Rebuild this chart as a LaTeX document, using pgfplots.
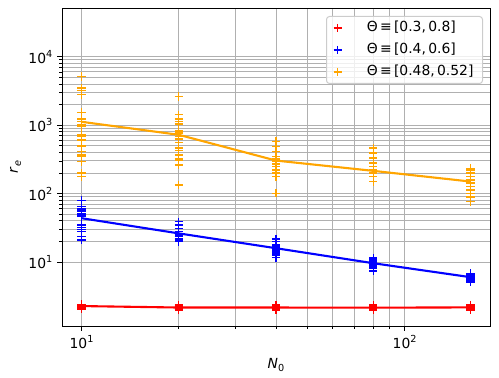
\documentclass[border=0pt]{standalone}
\usepackage{fontspec}
\setmainfont{DejaVu Sans}
\usepackage{pgfplots}
\pgfplotsset{compat=1.18}

\definecolor{mplred}{HTML}{FF0000}
\definecolor{mplblue}{HTML}{0000FF}
\definecolor{mplorange}{HTML}{FFA500}
\definecolor{gridgray}{HTML}{B0B0B0}
\definecolor{legframe}{HTML}{CCCCCC}

\newcommand{\sups}[1]{\raisebox{0.42em}{\fontsize{9.7}{10}\selectfont #1}}
\newcommand{\subs}[1]{\raisebox{-0.22em}{\fontsize{9.7}{10}\selectfont #1}}

\begin{document}
\fontsize{13.9}{16.7}\selectfont
\begin{tikzpicture}
\path[use as bounding box] (-62pt,-52pt) rectangle (437pt,326pt);
\begin{loglogaxis}[
    scale only axis,
    width=428pt, height=318pt,
    xmin=8.7, xmax=183.8,
    ymin=1.16, ymax=5.17e4,
    xtick={10,100},
    xticklabels={10\sups{1},10\sups{2}},
    ytick={10,100,1000,10000},
    yticklabels={10\sups{1},10\sups{2},10\sups{3},10\sups{4}},
    xtick pos=lower, ytick pos=left,
    tick align=outside,
    major tick length=4.9pt, minor tick length=2.8pt,
    every tick/.style={black, line width=0.9pt},
    axis line style={black, line width=0.9pt},
    grid=both,
    major grid style={draw=gridgray, line width=1pt},
    minor grid style={draw=gridgray, line width=1pt},
    xlabel={\textit{N}\subs{0}},
    ylabel={\textit{r}\subs{\textit{e}}},
    ylabel style={yshift=-2pt},
    legend cell align=left,
    legend image code/.code={\draw[mark repeat=2,mark phase=2,#1] plot coordinates {(0pt,0pt) (10pt,0pt) (20pt,0pt)};},
    legend style={at={(1,1)}, anchor=north east, xshift=-7pt, yshift=-8pt,
        draw=legframe, line width=1pt, rounded corners=3pt,
        fill=white, fill opacity=0.8, text opacity=1,
        inner xsep=7pt, inner ysep=3pt,
        nodes={inner sep=2pt, text height=10pt, text depth=3pt},
        column sep=23pt, row sep=5pt},
    mark size=4.15pt,
]
% red
\addplot[only marks, mark=+, color=mplred, line width=1.4pt] coordinates {
 (10,2.04) (10,2.10) (10,2.15) (10,2.20) (10,2.25) (10,2.28) (10,2.32) (10,2.36) (10,2.41) (10,2.27) (10,2.22)
 (20,1.98) (20,2.04) (20,2.09) (20,2.13) (20,2.16) (20,2.20) (20,2.24) (20,2.30) (20,2.38)
 (40,2.00) (40,2.05) (40,2.10) (40,2.13) (40,2.16) (40,2.20) (40,2.24) (40,2.28) (40,2.35)
 (80,2.00) (80,2.05) (80,2.10) (80,2.13) (80,2.16) (80,2.20) (80,2.24) (80,2.28) (80,2.36)
 (160,2.00) (160,2.05) (160,2.10) (160,2.13) (160,2.17) (160,2.20) (160,2.24) (160,2.28) (160,2.36)
};
\addlegendentry{Θ\,≡\,[0.3,\,0.8]}
% blue
\addplot[only marks, mark=+, color=mplblue, line width=1.4pt] coordinates {
 (10,79) (10,64.5) (10,59.7) (10,55.8) (10,51.6) (10,48.8) (10,46) (10,34.8) (10,32.2) (10,30.1) (10,27.8) (10,23.5) (10,21)
 (20,38.9) (20,34.8) (20,31.1) (20,27.8) (20,26) (20,24.9) (20,23.5) (20,22.2) (20,21) (20,19.8)
 (40,21.7) (40,19.8) (40,18.2) (40,17.2) (40,16.3) (40,15.5) (40,14.8) (40,14.2) (40,13.5) (40,12.7) (40,11.6)
 (80,11.4) (80,10.8) (80,10.3) (80,9.9) (80,9.6) (80,9.3) (80,9.0) (80,8.6) (80,8.2) (80,7.43)
 (160,6.8) (160,6.5) (160,6.3) (160,6.1) (160,5.9) (160,5.7) (160,5.5) (160,5.3) (160,5.13)
};
\addlegendentry{Θ\,≡\,[0.4,\,0.6]}
% orange
\addplot[only marks, mark=+, color=mplorange, line width=1.4pt] coordinates {
 (10,5160) (10,3490) (10,3220) (10,2790) (10,1535) (10,1240) (10,1133) (10,1013) (10,948) (10,731)
 (10,700) (10,611) (10,499) (10,412) (10,369) (10,348) (10,294) (10,199) (10,177)
 (20,2630) (20,1420) (20,1228) (20,1133) (20,1048) (20,828) (20,766) (20,684) (20,626) (20,558)
 (20,462) (20,427) (20,369) (20,319) (20,304) (20,263) (20,134)
 (40,577) (40,488) (40,412) (40,348) (40,319) (40,294) (40,272) (40,249) (40,222) (40,199) (40,177) (40,101)
 (80,462) (80,391) (80,330) (80,279) (80,249) (80,222) (80,199) (80,177) (80,150)
 (160,235) (160,222) (160,199) (160,177) (160,158) (160,142) (160,127) (160,113) (160,101) (160,89.5) (160,76)
};
\addlegendentry{Θ\,≡\,[0.48,\,0.52]}
% mean lines
\addplot[forget plot, no marks, color=mplred, line width=2.1pt] coordinates {
 (10,2.27) (20,2.16) (40,2.16) (80,2.15) (160,2.17)
};
\addplot[forget plot, no marks, color=mplblue, line width=2.1pt] coordinates {
 (10,43.7) (20,26.2) (40,15.9) (80,9.6) (160,6.0)
};
\addplot[forget plot, no marks, color=mplorange, line width=2.1pt] coordinates {
 (10,1121) (20,724) (40,304) (80,215) (160,150)
};
\end{loglogaxis}
\end{tikzpicture}
\end{document}
